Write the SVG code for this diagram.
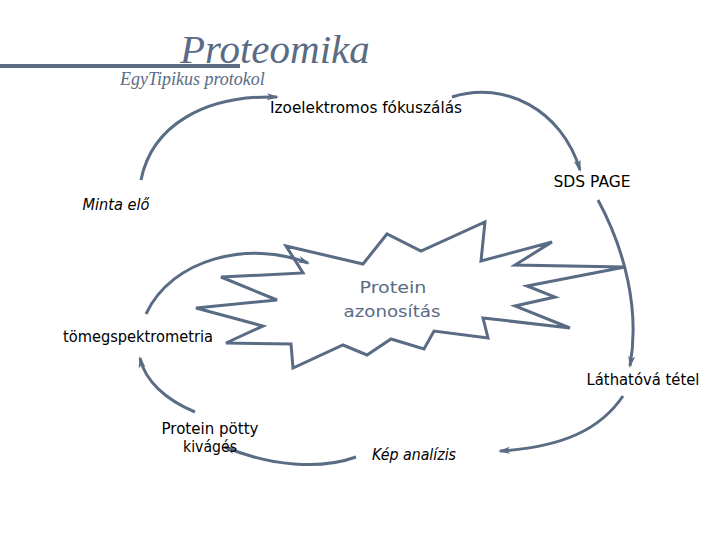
<svg xmlns="http://www.w3.org/2000/svg" width="720" height="540" viewBox="0 0 720 540">
<style>
.lbl{font-family:"DejaVu Sans","Liberation Sans",sans-serif;font-size:15px;fill:#000;text-anchor:middle}
.it{font-style:italic}
.conn{fill:none;stroke:#5a6c84;stroke-width:3;marker-end:url(#ah)}
.title{font-family:"Liberation Serif",serif;font-style:italic;fill:#5a6c84}
</style>
<defs>
<marker id="ah" viewBox="0 0 12 8" refX="10" refY="4" markerWidth="12" markerHeight="8" markerUnits="userSpaceOnUse" orient="auto">
<path d="M0,0.5 L12,4 L0,7.5 L3,4 Z" fill="#5a6c84"/>
</marker>
</defs>
<rect width="720" height="540" fill="#fff"/>
<g id="header">
<text class="title" x="180" y="63" font-size="41">Proteomika</text>
<line x1="0" y1="66" x2="240" y2="66" stroke="#5a6c84" stroke-width="4"/>
<text class="title" x="120" y="85" font-size="18">EgyTipikus protokol</text>
</g>
<g id="protein-azonositas">
<polygon points="286,246 363,264 387,234 421,251 485,222 481,261 552,242 515,265 625,267 527,286 555,297 515,306 570,328 483,318 488,338 434,331 424,349 391,339 367,355 343,345 293,368 291,344 226,343 263,326 196,308 277,300 221,277 303,273" fill="#fff" stroke="#5a6c84" stroke-width="3" stroke-linejoin="miter"/>
<text class="lbl" x="393" y="293" font-size="19" style="fill:#5a6c84" textLength="67" lengthAdjust="spacingAndGlyphs">Protein</text>
<text class="lbl" x="392" y="317" font-size="19" style="fill:#5a6c84" textLength="97" lengthAdjust="spacingAndGlyphs">azonosítás</text>
</g>
<g id="connectors">
<path class="conn" d="M141,180 C152,125 205,95 277,97"/>
<path class="conn" d="M452,97 C505,80 562,110 580,170"/>
<path class="conn" d="M598,200 C625,250 640,310 630,366"/>
<path class="conn" d="M623,396 C600,430 562,447 500,451"/>
<path class="conn" d="M356,457 C320,470 270,466 225,447"/>
<path class="conn" d="M195,412 C166,400 145,381 140,358"/>
<path class="conn" d="M146,314 C172,258 250,240 308,263"/>
</g>
<g id="izoelektromos"><text class="lbl" x="366" y="113" textLength="192" lengthAdjust="spacingAndGlyphs">Izoelektromos fókuszálás</text></g>
<g id="sds-page"><text class="lbl" x="592" y="187" textLength="77" lengthAdjust="spacingAndGlyphs">SDS PAGE</text></g>
<g id="minta-elo"><text class="lbl it" x="116" y="210" textLength="67" lengthAdjust="spacingAndGlyphs">Minta elő</text></g>
<g id="tomegspektrometria"><text class="lbl" x="138" y="342" textLength="150" lengthAdjust="spacingAndGlyphs">tömegspektrometria</text></g>
<g id="lathatova-tetel"><text class="lbl" x="643" y="385" textLength="113" lengthAdjust="spacingAndGlyphs">Láthatóvá tétel</text></g>
<g id="kep-analizis"><text class="lbl it" x="414" y="460" textLength="84" lengthAdjust="spacingAndGlyphs">Kép analízis</text></g>
<g id="protein-potty"><text class="lbl" x="210" y="434" font-size="14" textLength="97" lengthAdjust="spacingAndGlyphs">Protein pötty</text><text class="lbl" x="210" y="452" font-size="14" textLength="54" lengthAdjust="spacingAndGlyphs">kivágés</text></g>
</svg>
